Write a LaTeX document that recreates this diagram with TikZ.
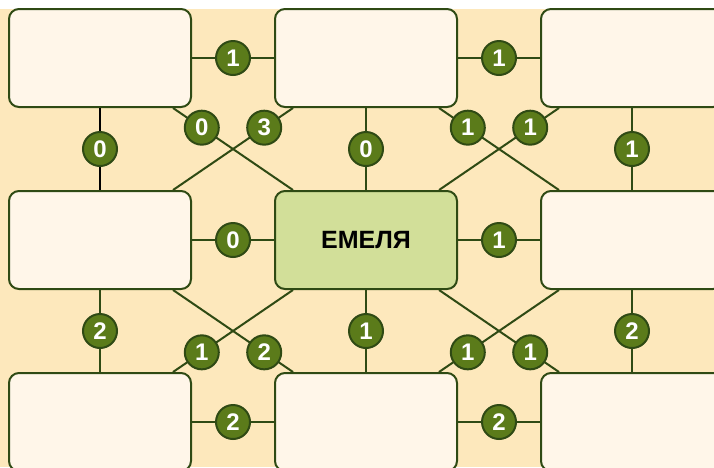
\documentclass[tikz,border=0pt]{standalone}
\usepackage{fontspec}
\setmainfont{Liberation Sans}
\usetikzlibrary{positioning}
\definecolor{grBg}{HTML}{FDE8BC}
\definecolor{grBox}{HTML}{FFF6E9}
\definecolor{grLine}{HTML}{2F4A14}
\definecolor{grHub}{HTML}{D2DF99}
\definecolor{grBadge}{HTML}{5B7B1A}

\begin{document}
\begin{tikzpicture}[x=1pt, y=-1pt,
          node distance=82pt and 82pt,
          box/.style={draw=grLine, line width=2pt, rounded corners=10pt, fill=grBox,
            minimum width=182pt, minimum height=98pt, inner sep=0pt},
          hub/.style={box, fill=grHub, font=\fontsize{25}{28}\selectfont\bfseries},
          num/.style={circle, draw=grLine, line width=2pt, fill=grBadge, text=white,
            minimum size=34pt, inner sep=0pt, font=\fontsize{24}{26}\selectfont\bfseries},
          ln/.style={draw=grLine, line width=2pt}]
        \useasboundingbox (0,0) rectangle (714,467);
        \fill[grBg] (0,9) rectangle (714,467);
        % grid of boxes
        \node[box] (tl) at (100,58) {};
        \node[box, right=of tl] (tm) {};
        \node[box, right=of tm] (tr) {};
        \node[box, below=of tl] (ml) {};
        \node[hub, below=of tm] (c) {ЕМЕЛЯ};
        \node[box, below=of tr] (mr) {};
        \node[box, below=of ml] (bl) {};
        \node[box, below=of c] (bm) {};
        \node[box, below=of mr] (br) {};
        % rows
        \draw[ln] (tl) -- node[num] {1} (tm);
        \draw[ln] (tm) -- node[num] {1} (tr);
        \draw[ln] (ml) -- node[num] {0} (c);
        \draw[ln] (c) -- node[num] {1} (mr);
        \draw[ln] (bl) -- node[num] {2} (bm);
        \draw[ln] (bm) -- node[num] {2} (br);
        % columns
        \draw[ln, draw=black] (tl) -- node[num] {0} (ml);
        \draw[ln] (tm) -- node[num] {0} (c);
        \draw[ln] (tr) -- node[num] {1} (mr);
        \draw[ln] (ml) -- node[num] {2} (bl);
        \draw[ln] (c) -- node[num] {1} (bm);
        \draw[ln] (mr) -- node[num] {2} (br);
        % diagonals
        \draw[ln] (tl) -- node[num, pos=.24] {0} (c);
        \draw[ln] (tm) -- node[num, pos=.24] {3} (ml);
        \draw[ln] (tm) -- node[num, pos=.24] {1} (mr);
        \draw[ln] (tr) -- node[num, pos=.24] {1} (c);
        \draw[ln] (bl) -- node[num, pos=.24] {1} (c);
        \draw[ln] (bm) -- node[num, pos=.24] {2} (ml);
        \draw[ln] (bm) -- node[num, pos=.24] {1} (mr);
        \draw[ln] (br) -- node[num, pos=.24] {1} (c);
      \end{tikzpicture}
\end{document}
